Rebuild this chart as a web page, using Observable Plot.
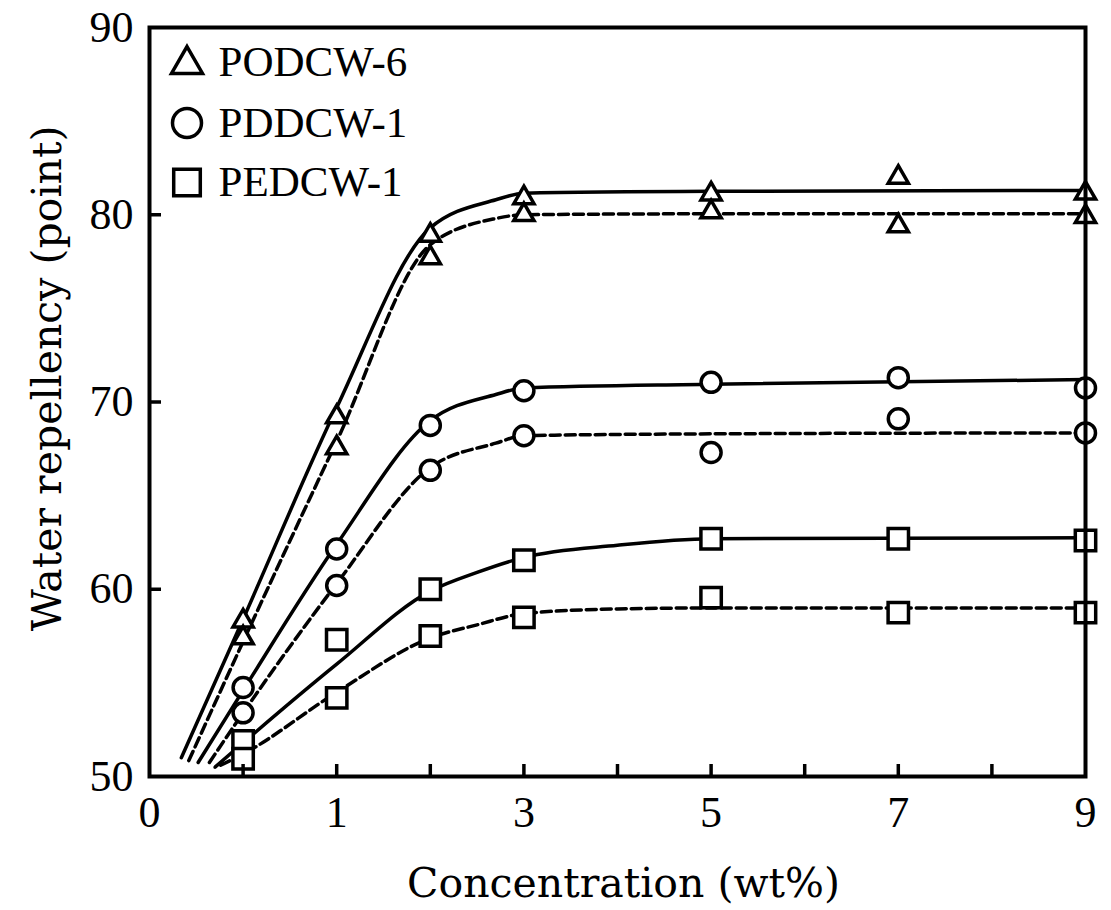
<!DOCTYPE html>
<html>
<head>
<meta charset="utf-8">
<script src="https://cdn.jsdelivr.net/npm/d3@7"></script>
<script src="https://cdn.jsdelivr.net/npm/@observablehq/plot@0.6"></script>
<style>
  html, body { margin: 0; padding: 0; background: #fff; }
  #chart svg { display: block; }
</style>
</head>
<body>
<div id="chart"></div>
<script>
// ---- categories ----
const seriesNames = ["PODCW-6", "PDDCW-1", "PEDCW-1"];
const seriesSymbols = ["triangle", "circle", "square"];

// ---- measured points (x = concentration, wt%) ----
const concentration = [0.5, 1, 2, 3, 5, 7, 9];
const podcw6Upper = [58.3, 69.2, 78.9, 80.9, 81.1, 82.0, 81.15];
const podcw6Lower = [57.4, 67.55, 77.7, 80.0, 80.15, 79.4, 79.9];
const pddcw1Upper = [54.75, 62.15, 68.75, 70.6, 71.05, 71.3, 70.75];
const pddcw1Lower = [53.4, 60.2, 66.35, 68.2, 67.3, 69.1, 68.35];
const pedcw1Upper = [51.9, 57.3, 60.0, 61.55, 62.7, 62.7, 62.6];
const pedcw1Lower = [50.95, 54.2, 57.5, 58.5, 59.55, 58.75, 58.75];

// ---- fitted curves ----
const podcw6SolidX = [0.17, 0.5, 1, 2, 2.7, 3, 5, 9];
const podcw6SolidY = [51.0, 58.4, 69.7, 79.3, 80.8, 81.15, 81.25, 81.3];
const podcw6DashX  = [0.21, 0.5, 1, 2, 2.7, 3, 5, 9];
const podcw6DashY  = [50.85, 57.2, 67.9, 78.4, 79.8, 80.0, 80.05, 80.05];
const pddcw1SolidX = [0.26, 0.5, 1, 2, 2.7, 3, 5, 9];
const pddcw1SolidY = [50.75, 54.6, 62.4, 69.0, 70.4, 70.75, 70.95, 71.2];
const pddcw1DashX  = [0.32, 0.5, 1, 2, 2.7, 3, 5, 9];
const pddcw1DashY  = [50.75, 53.4, 60.3, 66.5, 67.8, 68.2, 68.3, 68.35];
const pedcw1SolidX = [0.35, 0.5, 1, 2, 2.5, 3, 4, 5, 9];
const pedcw1SolidY = [50.5, 51.8, 56.0, 59.9, 60.9, 61.7, 62.35, 62.7, 62.75];
const pedcw1DashX  = [0.38, 0.5, 1, 2, 2.5, 3, 4, 5, 9];
const pedcw1DashY  = [50.6, 51.2, 54.5, 57.4, 58.1, 58.7, 58.95, 59.0, 59.0];

// ---- axis ticks ----
const xTickLabels = [0, 1, 3, 5, 7, 9];
const xInnerTicks = [0.5, 1, 2, 3, 4, 5, 6, 7, 8];
const yTickLabels = [50, 60, 70, 80, 90];
const yInnerTicks = [60, 70, 80];

// ---- build tables ----
const pointSets = [
  [seriesNames[0], podcw6Upper], [seriesNames[0], podcw6Lower],
  [seriesNames[1], pddcw1Upper], [seriesNames[1], pddcw1Lower],
  [seriesNames[2], pedcw1Upper], [seriesNames[2], pedcw1Lower]
];
const points = pointSets.flatMap(([series, ys]) =>
  ys.map((y, i) => ({series, x: concentration[i], y})));

const curveSets = [
  [seriesNames[0], "solid", podcw6SolidX, podcw6SolidY],
  [seriesNames[0], "dash", podcw6DashX, podcw6DashY],
  [seriesNames[1], "solid", pddcw1SolidX, pddcw1SolidY],
  [seriesNames[1], "dash", pddcw1DashX, pddcw1DashY],
  [seriesNames[2], "solid", pedcw1SolidX, pedcw1SolidY],
  [seriesNames[2], "dash", pedcw1DashX, pedcw1DashY]
];
const curves = curveSets.flatMap(([series, style, xs, ys]) =>
  xs.map((x, i) => ({series, style, x, y: ys[i]})));

const markerR = {"PODCW-6": 7.5, "PDDCW-1": 10, "PEDCW-1": 11.5};
const legendR = [11.5, 14.5, 15];
const legendDotDy = [37, 95.5, 155];
const legendTextDy = [48, 109, 168];

const serif = "'Liberation Serif', 'Times New Roman', serif";
const titleFont = "'DejaVu Serif', serif";

const marks = [
  Plot.line(curves.filter(d => d.style === "solid"), {
    x: "x", y: "y", z: "series", curve: "monotone-x",
    stroke: "black", strokeWidth: 3.5
  }),
  Plot.line(curves.filter(d => d.style === "dash"), {
    x: "x", y: "y", z: "series", curve: "monotone-x",
    stroke: "black", strokeWidth: 3.5, strokeDasharray: "10,5"
  }),
  ...seriesNames.map(s => Plot.dot(points.filter(d => d.series === s), {
    x: "x", y: "y", symbol: "series", r: markerR[s],
    fill: "white", stroke: "black", strokeWidth: 3.5
  })),
  // axes
  Plot.axisX({ticks: xInnerTicks, tickSize: -12, strokeWidth: 3.5, fill: "none", label: null}),
  Plot.axisX({ticks: xTickLabels, tickSize: 0, tickPadding: 19, label: null,
    fontSize: 44, fontFamily: serif, tickFormat: d => String(d)}),
  Plot.axisY({ticks: yInnerTicks, tickSize: -12, strokeWidth: 3.5, fill: "none", label: null}),
  Plot.axisY({ticks: yTickLabels, tickSize: 0, tickPadding: 16, label: null,
    fontSize: 44, fontFamily: serif, tickFormat: d => String(d)}),
  Plot.frame({stroke: "black", strokeWidth: 4}),
  // axis titles
  Plot.text(["Concentration (wt%)"], {
    frameAnchor: "bottom", dx: 6, dy: 120, lineAnchor: "bottom",
    textAnchor: "middle", fontSize: 41, fontFamily: titleFont, fill: "black"
  }),
  Plot.text(["Water repellency (point)"], {
    frameAnchor: "left", rotate: -90, dx: -89, dy: -23.5, lineAnchor: "bottom",
    textAnchor: "middle", fontSize: 41, fontFamily: titleFont, fill: "black"
  }),
  // legend inside the frame
  ...seriesNames.map((s, i) => Plot.dot([s], {
    frameAnchor: "top-left", dx: 37.5, dy: legendDotDy[i],
    symbol: d => d, r: legendR[i], fill: "white", stroke: "black", strokeWidth: 3.5
  })),
  ...seriesNames.map((s, i) => Plot.text([s], {
    frameAnchor: "top-left", dx: 69, dy: legendTextDy[i], lineAnchor: "bottom",
    textAnchor: "start", fontSize: 43, fontFamily: serif, fill: "black"
  }))
];

const chart = Plot.plot({
  width: 1111,
  height: 910,
  marginLeft: 149,
  marginRight: 26,
  marginTop: 27,
  marginBottom: 134,
  style: {background: "white", color: "black", fontFamily: serif},
  x: {type: "linear", domain: xTickLabels},
  y: {domain: [50, 90]},
  symbol: {domain: seriesNames, range: seriesSymbols},
  marks
});
document.getElementById("chart").appendChild(chart);
</script>
</body>
</html>
